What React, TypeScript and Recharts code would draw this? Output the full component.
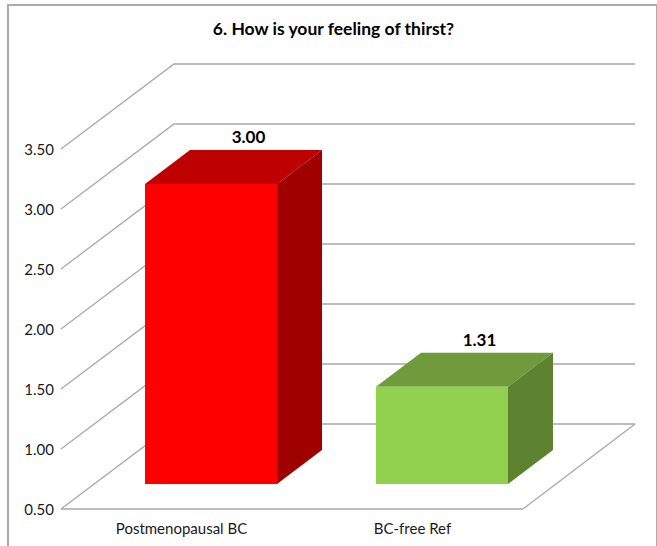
import { BarChart, Bar, XAxis, YAxis, CartesianGrid, LabelList } from "recharts";

const categories = ["Postmenopausal BC", "BC-free Ref"];
const scores = [3.0, 1.31];
const yTicks = [0.5, 1, 1.5, 2, 2.5, 3, 3.5];

const frontColors = ["#ff0000", "#92d050"];
const topColors = ["#bf0000", "#6f9b3c"];
const sideColors = ["#9f0000", "#5e8330"];

const data = categories.map((name, i) => ({ name, score: scores[i] }));

const GRID = "#a8a8a8";
const FONT = "Lato, 'Open Sans', sans-serif";

// pseudo-3D depth: the walls run back by WALL_*, bars sit BAR_SHIFT_* into the floor
const WALL_X = 113;
const WALL_Y = -85;
const BAR_SHIFT_X = 34;
const BAR_SHIFT_Y = -25;
const BAR_DEPTH_X = 45;
const BAR_DEPTH_Y = -34;

function WallLine(props: any) {
  const { x1, y1, x2, y, height } = props;
  const isFloor = Math.abs(y1 - (y + height)) < 0.5;
  const backY = y1 + WALL_Y;
  return (
    <g fill="none" stroke={GRID} strokeWidth={1.3}>
      <polyline points={`${x1},${y1} ${x1 + WALL_X},${backY} ${x2 + WALL_X - 1},${backY}`} />
      {isFloor && <line x1={x2} y1={y1} x2={x2 + WALL_X - 1} y2={backY} />}
    </g>
  );
}

function Box(props: any) {
  const { x, y, width, height, index } = props;
  const left = x + BAR_SHIFT_X;
  const right = left + width;
  const top = y + BAR_SHIFT_Y;
  const bottom = top + height;
  const bx = BAR_DEPTH_X;
  const by = BAR_DEPTH_Y;
  return (
    <g>
      <polygon
        points={`${left},${top} ${left + bx},${top + by} ${right + bx},${top + by} ${right},${top}`}
        fill={topColors[index]}
      />
      <polygon
        points={`${right},${top} ${right + bx},${top + by} ${right + bx},${bottom + by} ${right},${bottom}`}
        fill={sideColors[index]}
      />
      <rect x={left} y={top} width={width} height={height} fill={frontColors[index]} />
    </g>
  );
}

function ValueLabel(props: any) {
  const { x, y, width, value } = props;
  return (
    <text
      x={x + width / 2 + BAR_SHIFT_X + 37.5}
      y={y + BAR_SHIFT_Y + BAR_DEPTH_Y - 7}
      textAnchor="middle"
      fontFamily={FONT}
      fontSize={17}
      fontWeight={700}
      fill="#000"
    >
      {Number(value).toFixed(2)}
    </text>
  );
}

export default function App() {
  return (
    <div style={{ position: "absolute", left: 0, top: 0, width: 657, height: 546, background: "#fff" }}>
      <div
        style={{
          position: "absolute",
          left: 7,
          top: 4,
          width: 647,
          height: 542,
          borderTop: "2px solid #ababab",
          borderLeft: "2px solid #ababab",
          borderRight: "2px solid #ababab",
        }}
      />
      <div
        style={{
          position: "absolute",
          left: 0,
          top: 18,
          width: 667,
          textAlign: "center",
          fontFamily: FONT,
          fontSize: 17.5,
          fontWeight: 700,
          color: "#000",
        }}
      >
        6. How is your feeling of thirst?
      </div>
      <div style={{ position: "absolute", left: 0, top: 0 }}>
        <BarChart
          width={657}
          height={546}
          data={data}
          margin={{ top: 149, right: 134, bottom: 0, left: 0 }}
        >
          <CartesianGrid vertical={false} horizontal={(p: any) => <WallLine key={p.index} {...p} />} />
          <XAxis
            dataKey="name"
            axisLine={{ stroke: GRID, strokeWidth: 1.3 }}
            tickLine={false}
            height={37}
            interval={0}
            tickMargin={8}
            tick={{ fontFamily: FONT, fontSize: 15, fill: "#1a1a1a", dx: 5 }}
          />
          <YAxis
            width={61}
            domain={[0.5, 3.5]}
            ticks={yTicks}
            interval={0}
            axisLine={false}
            tickLine={false}
            tickMargin={1}
            tickFormatter={(v: number) => v.toFixed(2)}
            tick={{ fontFamily: FONT, fontSize: 15, fill: "#1a1a1a", dy: 0.5 }}
          />
          <Bar dataKey="score" barSize={132} shape={<Box />} isAnimationActive={false}>
            <LabelList dataKey="score" content={<ValueLabel />} />
          </Bar>
        </BarChart>
      </div>
    </div>
  );
}
